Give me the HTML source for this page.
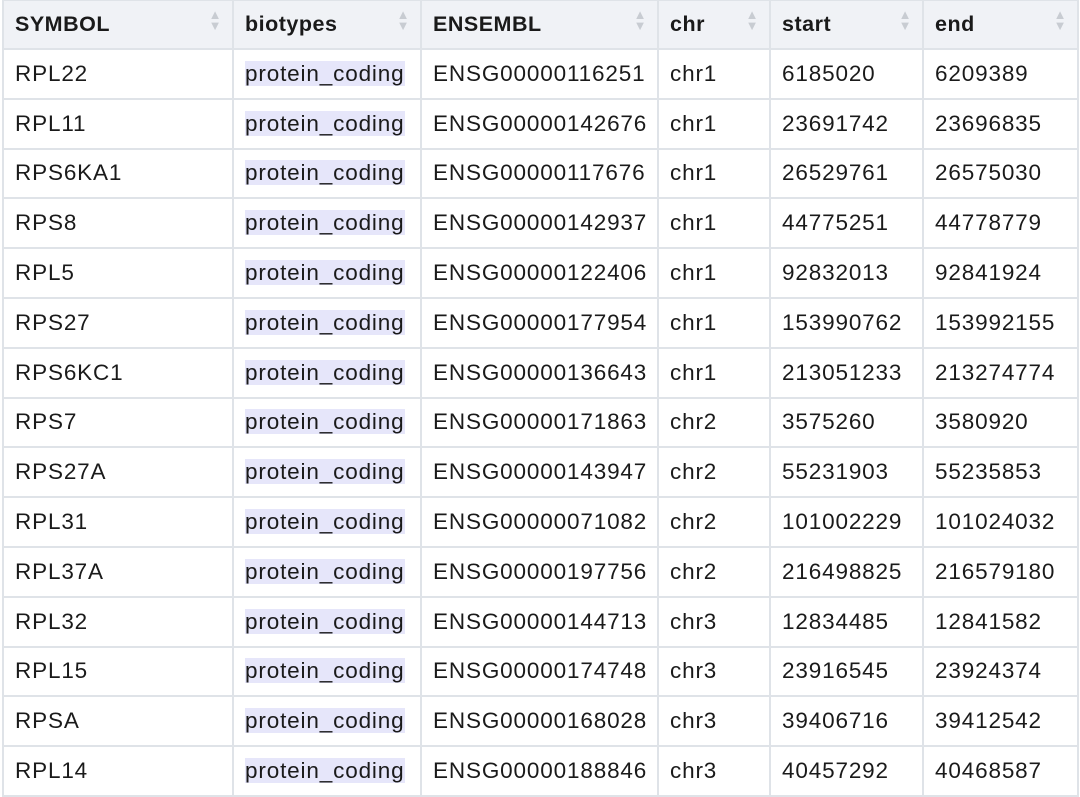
<!DOCTYPE html>
<html><head><meta charset="utf-8"><style>
body{margin:0;width:1080px;height:794px;overflow:hidden;background:#fff;font-family:"Liberation Sans",sans-serif;color:#1a1a1a}
table{position:absolute;left:2px;top:-1px;border-collapse:collapse;table-layout:fixed;width:1075px}
td,th{border:2px solid #dfe3e8;padding:0 0 0 11px;text-align:left;white-space:nowrap;overflow:hidden;font-size:22.5px;letter-spacing:0.85px}
th{height:47px;background:#f0f2f6;font-weight:bold;font-size:21.5px;letter-spacing:0.5px;position:relative}
td{height:47.8px}
th .s{position:absolute;right:10px;top:8px;font-size:13px;color:#c8ccd2;line-height:11px}
.bt{background:#e6e6fa}
</style></head><body>
<table>
<colgroup><col style="width:230px"><col style="width:188px"><col style="width:237px"><col style="width:112px"><col style="width:153px"><col style="width:155px"></colgroup>
<thead><tr>
<th>SYMBOL<span class="s">▲<br>▼</span></th>
<th>biotypes<span class="s">▲<br>▼</span></th>
<th>ENSEMBL<span class="s">▲<br>▼</span></th>
<th>chr<span class="s">▲<br>▼</span></th>
<th>start<span class="s">▲<br>▼</span></th>
<th>end<span class="s">▲<br>▼</span></th>
</tr></thead>
<tbody id="tb"></tbody></table>
<script>
const symbols=["RPL22","RPL11","RPS6KA1","RPS8","RPL5","RPS27","RPS6KC1","RPS7","RPS27A","RPL31","RPL37A","RPL32","RPL15","RPSA","RPL14"];
const ensembl=["ENSG00000116251","ENSG00000142676","ENSG00000117676","ENSG00000142937","ENSG00000122406","ENSG00000177954","ENSG00000136643","ENSG00000171863","ENSG00000143947","ENSG00000071082","ENSG00000197756","ENSG00000144713","ENSG00000174748","ENSG00000168028","ENSG00000188846"];
const chrs=["chr1","chr1","chr1","chr1","chr1","chr1","chr1","chr2","chr2","chr2","chr2","chr3","chr3","chr3","chr3"];
const starts=["6185020","23691742","26529761","44775251","92832013","153990762","213051233","3575260","55231903","101002229","216498825","12834485","23916545","39406716","40457292"];
const ends=["6209389","23696835","26575030","44778779","92841924","153992155","213274774","3580920","55235853","101024032","216579180","12841582","23924374","39412542","40468587"];
const tb=document.getElementById('tb');
symbols.forEach((s,i)=>{
  const tr=document.createElement('tr');
  
  
  const vals=[s,'protein_coding',ensembl[i],chrs[i],starts[i],ends[i]];
  const names=['symbol-cell','biotype-cell','ensembl-cell','chr-cell','start-cell','end-cell'];
  vals.forEach((v,j)=>{
    const td=document.createElement('td');
    
    
    if(j===1){const sp=document.createElement('span');sp.className='bt';sp.textContent=v;td.appendChild(sp);}
    else td.textContent=v;
    tr.appendChild(td);
  });
  tb.appendChild(tr);
});
</script>
</body></html>
